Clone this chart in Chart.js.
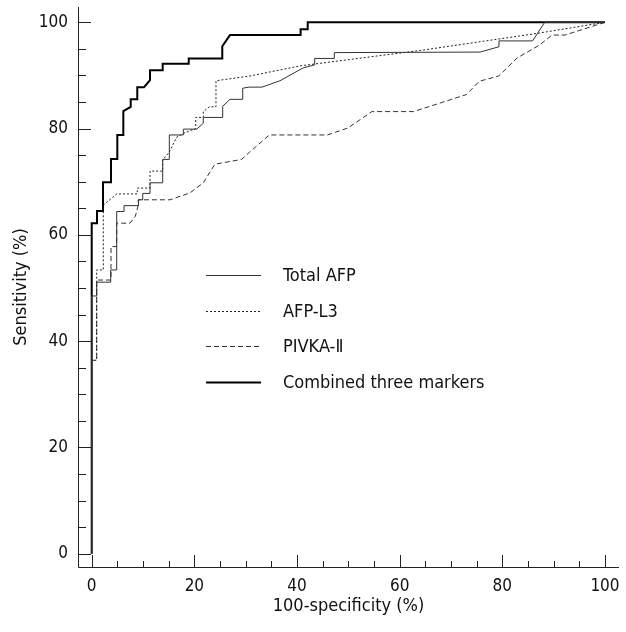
<!DOCTYPE html>
<html>
<head>
<meta charset="utf-8">
<script src="https://cdn.jsdelivr.net/npm/chart.js@4.4.1/dist/chart.umd.min.js"></script>
<style>
html,body{margin:0;padding:0;background:#fff;}
#wrap{position:relative;width:626px;height:632px;}
</style>
</head>
<body>
<div id="wrap"><canvas id="c" width="626" height="632"></canvas></div>
<script>
// ---- data ----
const seriesLabels = ['Total AFP', 'AFP-L3', 'PIVKA-Ⅱ', 'Combined three markers'];
const tickValues = [0, 20, 40, 60, 80, 100];

const totalAfpX = [0,0,0.97,0.97,3.7,3.7,4.87,4.87,6.3,6.3,9.1,9.1,9.94,9.94,11.36,11.36,13.83,13.83,15.12,15.12,17.85,17.85,20.46,21.74,21.74,25.52,25.52,26.94,29.42,29.42,30.65,33.18,36.68,41.17,43.44,43.44,47.26,47.26,75.65,79.35,79.35,85.9,88.25,100];
const totalAfpY = [0,48.5,48.5,51.1,51.1,53.4,53.4,64.4,64.4,65.5,65.5,66.6,66.6,67.8,67.8,69.8,69.8,74.2,74.2,78.8,78.8,79.9,79.9,81.0,82.1,82.1,84.2,85.5,85.5,87.6,87.8,87.8,89.0,91.4,92.0,93.2,93.2,94.3,94.4,95.4,96.5,96.5,100,100];

const afpL3X = [0,0,0.97,0.97,2.26,2.26,4.87,8.88,8.88,11.36,11.36,13.83,13.83,15.12,16.56,17.85,20.26,20.26,21.74,21.74,22.91,24.21,24.21,30.84,40.6,64,86.7,100];
const afpL3Y = [0,36.4,36.4,53.4,53.4,65.6,67.7,67.7,68.8,68.8,72.0,72.0,74.1,75.6,78.4,79.1,80.0,82.1,82.1,83.2,84.1,84.1,89.0,89.9,91.8,94.7,97.9,100];

const pivkaX = [0,0,0.97,0.97,3.76,3.76,4.87,4.87,7.46,8.5,9.08,9.08,15.25,19.15,21.74,24.0,29.2,30.8,34.6,45.9,49.9,54.6,62.7,73.0,75.5,79.3,82.9,87.2,89.7,92.2,100];
const pivkaY = [0,36.4,36.4,51.5,51.5,57.8,57.8,62.2,62.2,63.5,65.6,66.6,66.6,67.9,69.8,73.3,74.2,75.6,78.8,78.8,80.1,83.2,83.2,86.4,88.9,89.9,93.3,95.7,97.6,97.6,100];

const combinedX = [0,0,1.03,1.03,2.2,2.2,3.76,3.76,4.99,4.99,6.16,6.16,7.6,7.6,8.88,8.88,10.19,11.36,11.36,13.83,13.83,18.9,18.9,25.44,25.44,26.94,40.7,40.7,42.08,42.08,100];
const combinedY = [0,62.2,62.2,64.5,64.5,69.9,69.9,74.3,74.3,78.8,78.8,83.3,84.1,85.5,85.5,87.8,87.8,89.1,91.0,91.0,92.2,92.2,93.2,93.2,95.5,97.6,97.6,98.7,98.7,100,100];

const toPts = (xs, ys) => xs.map((x, i) => ({x: x, y: ys[i]}));

const FONT = '"DejaVu Sans Condensed", "DejaVu Sans", Verdana, sans-serif';

function fixPad(s) {
  s.paddingLeft = 0; s.paddingRight = 0; s.paddingTop = 0; s.paddingBottom = 0;
}

// axes, inward ticks and the legend drawn with the chart's own scales
const decor = {
  id: 'decor',
  afterDraw(chart) {
    const ctx = chart.ctx;
    const a = chart.chartArea;
    const xs = chart.scales.x, ys = chart.scales.y;
    ctx.save();
    ctx.strokeStyle = '#222';
    ctx.lineWidth = 1;
    ctx.beginPath();
    ctx.moveTo(a.left + 0.5, a.top);
    ctx.lineTo(a.left + 0.5, a.bottom + 0.5);
    ctx.lineTo(a.right, a.bottom + 0.5);
    ctx.stroke();
    // y ticks (pointing right)
    for (let v = 0; v <= 100; v += 5) {
      const py = Math.round(ys.getPixelForValue(v)) + 0.5;
      const len = (v % 20 === 0) ? 13 : 8;
      ctx.beginPath();
      ctx.moveTo(a.left, py);
      ctx.lineTo(a.left + len, py);
      ctx.stroke();
    }
    // x ticks (pointing up)
    for (let v = 0; v <= 100; v += 5) {
      const px = Math.round(xs.getPixelForValue(v)) + 0.5;
      const len = (v % 20 === 0) ? 12 : 6;
      ctx.beginPath();
      ctx.moveTo(px, a.bottom);
      ctx.lineTo(px, a.bottom - len);
      ctx.stroke();
    }
    // legend
    const lx0 = 206, lx1 = 261, tx = 283;
    const rows = [275, 311, 346, 382];
    ctx.font = '18px ' + FONT;
    ctx.textBaseline = 'middle';
    ctx.textAlign = 'left';
    chart.data.datasets.forEach((ds, i) => {
      const y = rows[i] + 0.5;
      ctx.strokeStyle = ds.borderColor;
      ctx.lineWidth = ds.borderWidth;
      ctx.setLineDash(ds.borderDash || []);
      ctx.beginPath();
      ctx.moveTo(lx0, y);
      ctx.lineTo(lx1, y);
      ctx.stroke();
      ctx.setLineDash([]);
      ctx.fillStyle = '#111';
      ctx.fillText(ds.label, tx, rows[i] + 1);
    });
    ctx.restore();
  }
};

new Chart(document.getElementById('c'), {
  type: 'scatter',
  data: {
    datasets: [
      {label: seriesLabels[0], data: toPts(totalAfpX, totalAfpY), borderColor: '#333', borderWidth: 1, borderDash: []},
      {label: seriesLabels[1], data: toPts(afpL3X, afpL3Y), borderColor: '#222', borderWidth: 1, borderDash: [2, 2]},
      {label: seriesLabels[2], data: toPts(pivkaX, pivkaY), borderColor: '#333', borderWidth: 1, borderDash: [5, 3]},
      {label: seriesLabels[3], data: toPts(combinedX, combinedY), borderColor: '#000', borderWidth: 2, borderDash: []}
    ].map(d => Object.assign(d, {showLine: true, pointRadius: 0, pointHoverRadius: 0, tension: 0, fill: false, backgroundColor: 'transparent'}))
  },
  options: {
    responsive: false,
    animation: false,
    devicePixelRatio: 1,
    layout: {autoPadding: false, padding: {left: 0, right: 7, top: 7, bottom: 0}},
    plugins: {legend: {display: false}, tooltip: {enabled: false}},
    scales: {
      x: {
        type: 'linear',
        min: -2.67, max: 102.73,
        afterBuildTicks: s => { s.ticks = tickValues.map(v => ({value: v})); },
        afterFit: s => { s.height = 65; fixPad(s); },
        grid: {display: false, drawTicks: false},
        border: {display: false},
        ticks: {padding: 9, color: '#111', font: {family: FONT, size: 17}},
        title: {display: true, text: '100-specificity (%)', color: '#111', font: {family: FONT, size: 18}, padding: {top: 0, bottom: 15}}
      },
      y: {
        type: 'linear',
        min: -2.5, max: 102.88,
        afterBuildTicks: s => { s.ticks = tickValues.map(v => ({value: v})); },
        afterFit: s => { s.width = 78; fixPad(s); },
        grid: {display: false, drawTicks: false},
        border: {display: false},
        ticks: {padding: 10, color: '#111', font: {family: FONT, size: 17}},
        title: {display: true, text: 'Sensitivity (%)', color: '#111', font: {family: FONT, size: 18}, padding: {top: 11, bottom: 0}}
      }
    }
  },
  plugins: [decor]
});
</script>
</body>
</html>
